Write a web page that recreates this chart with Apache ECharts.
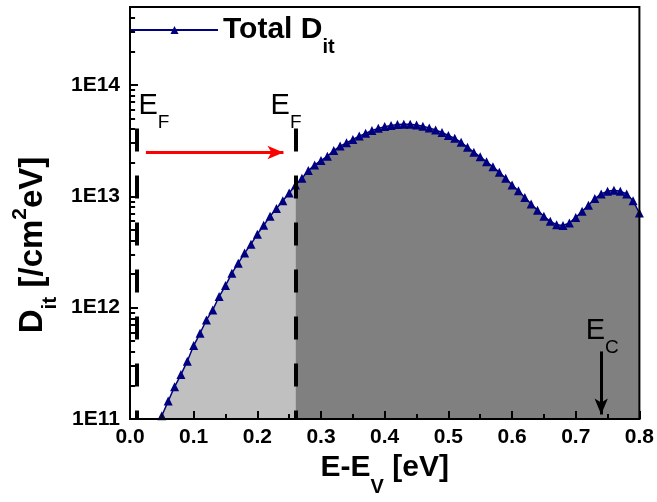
<!DOCTYPE html>
<html>
<head>
<meta charset="utf-8">
<script src="https://cdn.jsdelivr.net/npm/echarts@6/dist/echarts.min.js"></script>
<style>
  html, body { margin: 0; padding: 0; background: #fff; }
  #chart { width: 657px; height: 502px; }
</style>
</head>
<body>
<div id="chart"></div>
<script>
// energy above valence band edge [eV]
var energy = [0.05, 0.06, 0.07, 0.08, 0.09, 0.10, 0.11, 0.12, 0.13, 0.14,
  0.15, 0.16, 0.17, 0.18, 0.19, 0.20, 0.21, 0.22, 0.23, 0.24,
  0.25, 0.26, 0.27, 0.28, 0.29, 0.30, 0.31, 0.32, 0.33, 0.34,
  0.35, 0.36, 0.37, 0.38, 0.39, 0.40, 0.41, 0.42, 0.43, 0.44,
  0.45, 0.46, 0.47, 0.48, 0.49, 0.50, 0.51, 0.52, 0.53, 0.54,
  0.55, 0.56, 0.57, 0.58, 0.59, 0.60, 0.61, 0.62, 0.63, 0.64,
  0.65, 0.66, 0.67, 0.68, 0.69, 0.70, 0.71, 0.72, 0.73, 0.74,
  0.75, 0.76, 0.77, 0.78, 0.79, 0.80];
// total interface trap density [/cm2 eV]
var totalDit = [1.07e11, 1.45e11, 1.95e11, 2.51e11, 3.31e11, 4.57e11, 5.89e11, 7.76e11, 9.55e11, 1.26e12,
  1.58e12, 2.04e12, 2.51e12, 3.09e12, 3.72e12, 4.57e12, 5.50e12, 6.61e12, 7.76e12, 9.12e12,
  1.07e13, 1.26e13, 1.45e13, 1.70e13, 1.91e13, 2.09e13, 2.29e13, 2.57e13, 2.82e13, 3.02e13,
  3.24e13, 3.47e13, 3.67e13, 3.89e13, 4.07e13, 4.22e13, 4.32e13, 4.42e13, 4.43e13, 4.43e13,
  4.37e13, 4.25e13, 4.11e13, 3.94e13, 3.74e13, 3.52e13, 3.31e13, 3.05e13, 2.75e13, 2.49e13,
  2.26e13, 2.04e13, 1.84e13, 1.64e13, 1.45e13, 1.26e13, 1.12e13, 9.77e12, 8.51e12, 7.50e12,
  6.61e12, 5.96e12, 5.56e12, 5.47e12, 5.75e12, 6.46e12, 7.33e12, 8.32e12, 9.55e12, 1.05e13,
  1.11e13, 1.13e13, 1.11e13, 1.05e13, 9.12e12, 7.08e12];

// log minor tick values on the D_it axis
var yMinorTicks = [2e11, 3e11, 4e11, 5e11, 6e11, 7e11, 8e11, 9e11,
  2e12, 3e12, 4e12, 5e12, 6e12, 7e12, 8e12, 9e12,
  2e13, 3e13, 4e13, 5e13, 6e13, 7e13, 8e13, 9e13,
  2e14, 3e14, 4e14];
var minorTickLen = 0.008; // in eV, along x

// annotations (data coordinates)
var efOld = 0.01, efNew = 0.26, efTop = 4.05e13;
var shiftArrow = [0.025, 0.241, 2.47e13];
var ecArrow = [0.74, 4.05e11, 1.1e11];
var efLabels = [[0.0125, 6.5e13], [0.220, 6.5e13]];
var ecLabel = [0.715, 6.2e11];

var font = 'Arial, "Liberation Sans", sans-serif';

var pairs = energy.map(function (e, i) { return [e, totalDit[i]]; });
var lowPart = pairs.filter(function (p) { return p[0] <= efNew + 1e-9; });
var highPart = pairs.filter(function (p) { return p[0] >= efNew - 1e-9; });

var chart = echarts.init(document.getElementById('chart'));

function isDecade(v) {
  var l = Math.log10(v);
  return Math.abs(l - Math.round(l)) < 1e-6;
}

var minorTickLines = yMinorTicks.map(function (v) {
  return [{ coord: [0, v], lineStyle: { color: '#000', width: 2, type: 'solid' } },
          { coord: [minorTickLen, v] }];
});

var option = {
  animation: false,
  backgroundColor: '#fff',
  textStyle: { fontFamily: font },
  grid: {
    left: 130, right: 17, top: 7, bottom: 79,
    show: true, borderColor: '#000', borderWidth: 2,
    backgroundColor: 'transparent', z: 5
  },
  legend: {
    left: 130, top: 15, padding: 0,
    itemWidth: 87, itemHeight: 10,
    data: ['Total Dit'],
    formatter: function () { return '{m|Total D}{s|it}'; },
    textStyle: {
      color: '#000',
      rich: {
        m: { fontSize: 30, fontWeight: 'bold', fontFamily: font, color: '#000' },
        s: { fontSize: 20, fontWeight: 'bold', fontFamily: font, color: '#000', padding: [34, 0, 0, 0] }
      }
    }
  },
  xAxis: {
    type: 'value', min: 0, max: 0.8, interval: 0.1, z: 5,
    name: '{m|E-E}{s|V}{m| [eV]}',
    nameLocation: 'middle', nameGap: 18,
    nameTextStyle: {
      rich: {
        m: { fontSize: 30, fontWeight: 'bold', fontFamily: font, color: '#000' },
        s: { fontSize: 20, fontWeight: 'bold', fontFamily: font, color: '#000', padding: [38, 0, 0, 0] }
      }
    },
    axisLine: { lineStyle: { color: '#000', width: 2 } },
    axisTick: { show: true, inside: true, length: 8, lineStyle: { color: '#000', width: 2 } },
    minorTick: { show: true, splitNumber: 2, length: 5, lineStyle: { color: '#000', width: 2 } },
    splitLine: { show: false },
    axisLabel: {
      margin: 8, color: '#000', fontSize: 21, fontWeight: 'bold', fontFamily: font,
      formatter: function (v) { return v.toFixed(1); }
    }
  },
  yAxis: {
    type: 'log', logBase: 10, min: 1e11, max: 5e14, z: 5,
    axisLine: { lineStyle: { color: '#000', width: 2 } },
    axisTick: { show: true, inside: true, length: 8, lineStyle: { color: '#000', width: 2 } },
    splitLine: { show: false },
    axisLabel: {
      margin: 10, color: '#000', fontSize: 21, fontWeight: 'bold', fontFamily: font,
      formatter: function (v) {
        return isDecade(v) ? '1E' + Math.round(Math.log10(v)) : '';
      }
    }
  },
  graphic: [{
    type: 'text', x: 33, y: 245, rotation: Math.PI / 2, z: 10,
    style: {
      text: '{m|D}{s|it}{m| [/cm}{p|2}{m|eV]}',
      align: 'center', verticalAlign: 'middle', fill: '#000',
      rich: {
        m: { fontSize: 33, fontWeight: 'bold', fontFamily: font, fill: '#000' },
        s: { fontSize: 21, fontWeight: 'bold', fontFamily: font, fill: '#000', padding: [34, 0, 0, 0] },
        p: { fontSize: 21, fontWeight: 'bold', fontFamily: font, fill: '#000', padding: [0, 0, 26, 0] }
      }
    }
  }],
  series: [
    {
      name: 'lowFill', type: 'line', data: lowPart, showSymbol: false,
      lineStyle: { width: 0 }, areaStyle: { color: '#c0c0c0', opacity: 1, origin: 'start' },
      silent: true, z: 1
    },
    {
      name: 'highFill', type: 'line', data: highPart, showSymbol: false,
      lineStyle: { width: 0 }, areaStyle: { color: '#808080', opacity: 1, origin: 'start' },
      silent: true, z: 1
    },
    {
      name: 'Total Dit', type: 'line', data: pairs, z: 3,
      symbol: 'triangle', symbolSize: 9,
      itemStyle: { color: '#000080' },
      lineStyle: { color: '#000080', width: 1.5 }
    },
    {
      name: 'marks', type: 'line', data: [], z: 4, silent: true,
      markLine: {
        silent: true, animation: false,
        label: { show: false },
        symbol: ['none', 'none'],
        data: [
          [{ coord: [efOld, efTop], lineStyle: { color: '#000', width: 4, type: [23, 24] } },
           { coord: [efOld, 1e11] }],
          [{ coord: [efNew, efTop], lineStyle: { color: '#000', width: 4, type: [23, 24] } },
           { coord: [efNew, 1e11] }],
          [{ coord: [shiftArrow[0], shiftArrow[2]], symbol: 'none',
             lineStyle: { color: '#ff0000', width: 3, type: 'solid' } },
           { coord: [shiftArrow[1], shiftArrow[2]], symbol: 'arrow', symbolSize: [10, 16] }],
          [{ coord: [ecArrow[0], ecArrow[1]], symbol: 'none',
             lineStyle: { color: '#000', width: 3, type: 'solid' } },
           { coord: [ecArrow[0], ecArrow[2]], symbol: 'arrow', symbolSize: [10, 16] }]
        ].concat(minorTickLines)
      },
      markPoint: {
        silent: true, animation: false,
        symbol: 'circle', symbolSize: 1,
        itemStyle: { color: 'transparent' },
        label: {
          show: true, position: 'right', distance: 0,
          rich: {
            e: { fontSize: 29, fontFamily: font, color: '#000' },
            f: { fontSize: 19, fontFamily: font, color: '#000', padding: [34, 0, 0, 0] }
          }
        },
        data: [
          { coord: efLabels[0], label: { formatter: '{e|E}{f|F}' } },
          { coord: efLabels[1], label: { formatter: '{e|E}{f|F}' } },
          { coord: ecLabel, label: { formatter: '{e|E}{f|C}' } }
        ]
      }
    }
  ]
};

chart.setOption(option);
</script>
</body>
</html>
